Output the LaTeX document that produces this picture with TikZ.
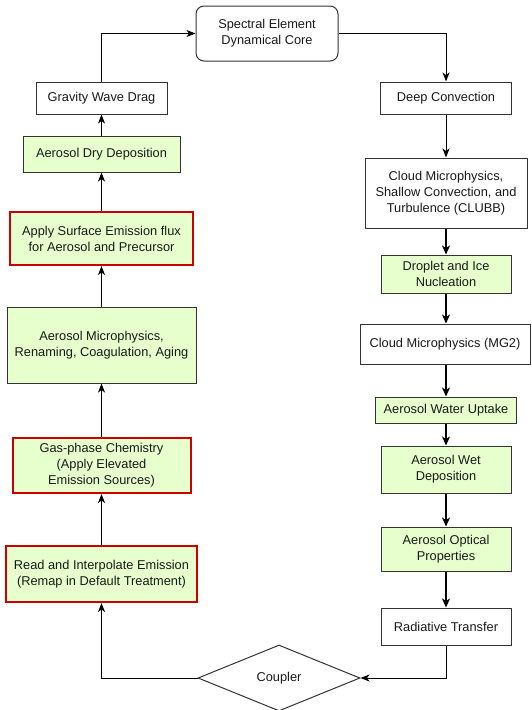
\documentclass[tikz,border=0pt]{standalone}
\usepackage{fontspec}
\setmainfont{Liberation Sans}
\usetikzlibrary{arrows.meta,shapes.geometric}
\definecolor{boxgreen}{HTML}{E6FFCC}
\definecolor{boxred}{HTML}{CC0000}
\definecolor{edge}{HTML}{333333}
\tikzset{
  box/.style={draw=edge, line width=1pt, fill=white, align=center, inner sep=2pt,
    font=\fontsize{12.8}{16}\selectfont, text=black!90},
  gbox/.style={box, fill=boxgreen},
  rbox/.style={box, fill=boxgreen, draw=boxred, line width=2pt},
  arr/.style={draw=black, line width=1pt, -{Stealth[length=9pt,width=7pt,inset=2.5pt]}},
  arrb/.style={draw=black, line width=1.6pt, -{Stealth[length=9pt,width=8pt,inset=2.5pt]}},
}
\begin{document}
\begin{tikzpicture}[x=1pt,y=-1pt]
\useasboundingbox (0,0) rectangle (531,710);
% left column
\node[box, rounded corners=8pt, minimum width=142pt, minimum height=55pt] (spec) at (267,33.5) {Spectral Element\\Dynamical Core};
\node[box, minimum width=131pt, minimum height=32pt] (grav) at (101.5,98) {Gravity Wave Drag};
\node[gbox, minimum width=157pt, minimum height=36pt] (dry) at (101.5,154) {Aerosol Dry Deposition};
\node[rbox, minimum width=183pt, minimum height=53pt] (surf) at (101.5,238.5) {Apply Surface Emission flux\\for Aerosol and Precursor};
\node[gbox, minimum width=189pt, minimum height=76pt] (micro) at (101.5,345) {Aerosol Microphysics,\\Renaming, Coagulation, Aging};
\node[rbox, minimum width=178pt, minimum height=55pt] (gas) at (101.5,465.5) {Gas-phase Chemistry\\(Apply Elevated\\Emission Sources)};
\node[rbox, minimum width=191pt, minimum height=56pt] (read) at (101.5,574) {Read and Interpolate Emission\\(Remap in Default Treatment)};
\node[box, diamond, aspect=2.45, minimum width=162pt, minimum height=66pt, inner sep=0pt] (coup) at (279,678) {Coupler};
% right column
\node[box, minimum width=131pt, minimum height=32pt] (deep) at (446,98) {Deep Convection};
\node[box, minimum width=162pt, minimum height=70pt] (clubb) at (446,193) {Cloud Microphysics,\\Shallow Convection, and\\Turbulence (CLUBB)};
\node[gbox, minimum width=130pt, minimum height=38pt] (drop) at (446,274) {Droplet and Ice\\Nucleation};
\node[box, minimum width=170pt, minimum height=40pt] (mg2) at (445,344) {Cloud Microphysics (MG2)};
\node[gbox, minimum width=141pt, minimum height=26pt] (wat) at (446,410) {Aerosol Water Uptake};
\node[gbox, minimum width=130pt, minimum height=47pt] (wet) at (446,469.5) {Aerosol Wet\\Deposition};
\node[gbox, minimum width=130pt, minimum height=44pt] (opt) at (446,549) {Aerosol Optical\\Properties};
\node[box, minimum width=130pt, minimum height=37pt] (rad) at (446,626.5) {Radiative Transfer};
% connectors
\draw[arr] (grav.north) |- (spec.west);
\draw[arr] (spec.east) -| (deep.north);
\draw[arr] (dry.north) -- (grav.south);
\draw[arr] (surf.north) -- (dry.south);
\draw[arr] (micro.north) -- (surf.south);
\draw[arr] (gas.north) -- (micro.south);
\draw[arr] (read.north) -- (gas.south);
\draw[arr] (coup.west) -| (read.south);
\draw[arr] (rad.south) |- (coup.east);
\draw[arr] (deep.south) -- (clubb.north);
\draw[arrb] (clubb.south) -- (drop.north);
\draw[arrb] (drop.south) -- (drop.south |- mg2.north);
\draw[arrb] (mg2.south -| wat.north) -- (wat.north);
\draw[arrb] (wat.south) -- (wet.north);
\draw[arrb] (wet.south) -- (opt.north);
\draw[arrb] (opt.south) -- (rad.north);
\end{tikzpicture}
\end{document}
